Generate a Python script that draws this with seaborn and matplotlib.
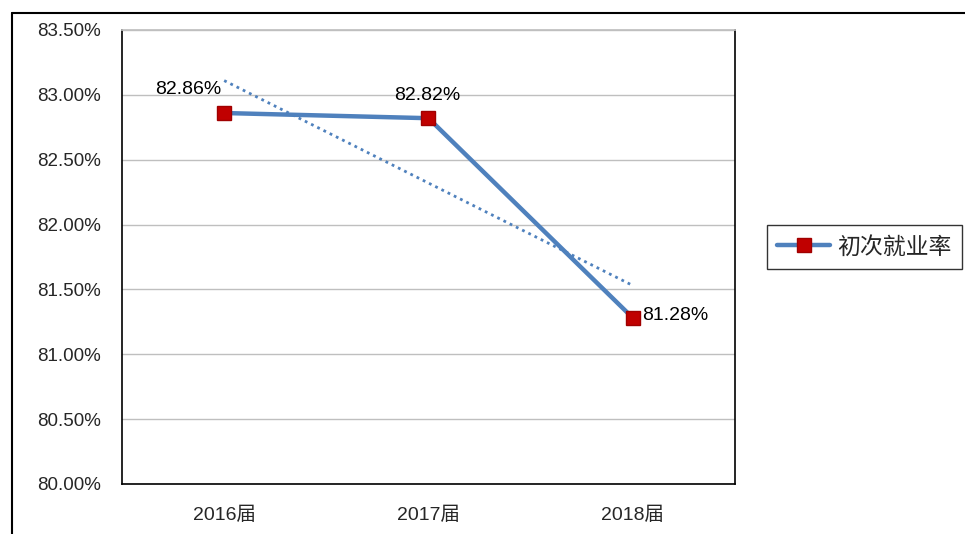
import matplotlib
matplotlib.use("Agg")
import matplotlib.pyplot as plt
import numpy as np
import pandas as pd
import seaborn as sns
from matplotlib.lines import Line2D

# data
years = ["2016届", "2017届", "2018届"]
rate = [82.86, 82.82, 81.28]
series_name = "初次就业率"
y_ticks = [80.0, 80.5, 81.0, 81.5, 82.0, 82.5, 83.0, 83.5]

sns.set_theme(style="white")
plt.rcParams["font.family"] = ["Liberation Sans", "Noto Sans CJK SC", "DejaVu Sans"]

df = pd.DataFrame({"year": years, "rate": rate, "pos": np.arange(len(years))})

LINE = "#4F81BD"
MARK = "#C00000"

fig = plt.figure(figsize=(9.65, 5.34), dpi=100)
ax = fig.add_axes([122 / 965, 50 / 534, 613 / 965, 454 / 534])

# linear trend line (Excel style, dotted)
sns.regplot(data=df, x="pos", y="rate", ax=ax, ci=None, scatter=False,
            truncate=True,
            line_kws={"color": LINE, "lw": 2.0, "ls": (0, (1, 1.5))})

sns.lineplot(data=df, x="pos", y="rate", ax=ax, color=LINE, lw=3.2,
             marker="s", markersize=10.5, markerfacecolor=MARK,
             markeredgecolor="#A00000", markeredgewidth=1, zorder=4)

# data labels
offsets = [(-26, 17, "center"), (-1, 16, "center"), (7, 2, "left")]
for (dx, dy, ha), x, v in zip(offsets, df["pos"], df["rate"]):
    ax.annotate(f"{v:.2f}%", (x, v), xytext=(dx, dy), textcoords="offset points",
                ha=ha, va="center", fontsize=14, color="black", zorder=5)

ax.set_xlim(-0.5, 2.5)
ax.set_ylim(80.0, 83.5)
ax.set_xticks(df["pos"])
ax.set_xticklabels(years, fontsize=14)
ax.set_yticks(y_ticks)
ax.set_yticklabels([f"{t:.2f}%" for t in y_ticks], fontsize=13.5)
ax.tick_params(axis="y", length=0, pad=15)
ax.tick_params(axis="x", length=0, pad=16)
ax.set_xlabel("")
ax.set_ylabel("")
ax.yaxis.grid(True, color="#BFBFBF", lw=1)
ax.set_axisbelow(True)
for side in ["left", "bottom", "right"]:
    ax.spines[side].set_color("black")
    ax.spines[side].set_linewidth(1.2)
ax.spines["top"].set_color("#BFBFBF")

handle = Line2D([], [], color=LINE, lw=3.2, marker="s", markersize=10.5,
                markerfacecolor=MARK, markeredgecolor="#A00000")
fig.legend([handle], [series_name], loc="center left",
           bbox_to_anchor=(767 / 965, 1 - 247 / 534), fontsize=16.5,
           frameon=True, fancybox=False, edgecolor="black",
           handlelength=2.3, handletextpad=0.3, borderpad=0.45,
           borderaxespad=0)

# outer chart-area frame (clipped by the image edge)
fig.add_artist(Line2D([12 / 965, 1], [1 - 13 / 534, 1 - 13 / 534],
                      transform=fig.transFigure, color="black", lw=1.5))
fig.add_artist(Line2D([12 / 965, 12 / 965], [0, 1 - 13 / 534],
                      transform=fig.transFigure, color="black", lw=1.5))

fig.savefig("out.png", dpi=100)
